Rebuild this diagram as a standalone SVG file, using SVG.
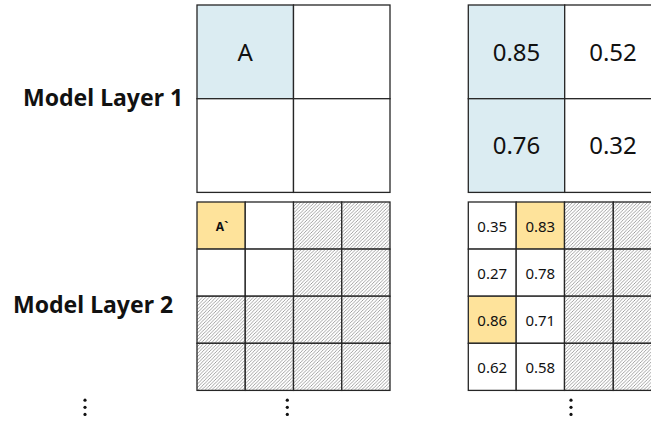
<svg xmlns="http://www.w3.org/2000/svg" width="651" height="421" viewBox="0 0 651 421">
  <style>
    .cell { fill: #ffffff; stroke: #262626; stroke-width: 1.3; }
    .blue { fill: #dbecf2; }
    .gold { fill: #fee39b; }
    .hatch { fill: url(#diag); }
    .label { font-family: "Noto Sans", "Open Sans", sans-serif; font-weight: bold; font-size: 23px; fill: #111; }
    .big { font-family: "Noto Sans", "Open Sans", sans-serif; font-size: 24px; fill: #111; text-anchor: middle; dominant-baseline: central; }
    .small { font-family: "Noto Sans", "Open Sans", sans-serif; font-size: 15px; fill: #111; text-anchor: middle; dominant-baseline: central; }
    .tag { font-family: "Noto Sans", "Open Sans", sans-serif; font-weight: bold; font-size: 12px; fill: #111; text-anchor: middle; dominant-baseline: central; }
    .dot { fill: #111; }
  </style>
  <defs>
    <pattern id="diag" patternUnits="userSpaceOnUse" width="3.4" height="3.4">
      <rect width="3.4" height="3.4" fill="#ffffff"/>
      <path d="M-0.85,0.85 L0.85,-0.85 M0,3.4 L3.4,0 M2.55,4.25 L4.25,2.55" stroke="#8c8c8c" stroke-width="0.8"/>
    </pattern>
  </defs>
  <rect width="651" height="421" fill="#ffffff"/>

  <!-- row labels -->
  <g id="label-layer1"><text class="label" x="23" y="106">Model Layer 1</text></g>
  <g id="label-layer2"><text class="label" x="13" y="312.5">Model Layer 2</text></g>

  <!-- layer 1, left: 2x2 grid -->
  <g id="layer1-left">
    <rect class="cell blue" x="197" y="5" width="96.5" height="93.7"/>
    <rect class="cell" x="293.5" y="5" width="96.5" height="93.7"/>
    <rect class="cell" x="197" y="98.7" width="96.5" height="93.7"/>
    <rect class="cell" x="293.5" y="98.7" width="96.5" height="93.7"/>
    <text class="big" x="245.2" y="51">A</text>
  </g>

  <!-- layer 1, right: 2x2 grid with scores -->
  <g id="layer1-right">
    <rect class="cell blue" x="468.3" y="5" width="96.4" height="93.7"/>
    <rect class="cell" x="564.7" y="5" width="96.4" height="93.7"/>
    <rect class="cell blue" x="468.3" y="98.7" width="96.4" height="93.7"/>
    <rect class="cell" x="564.7" y="98.7" width="96.4" height="93.7"/>
    <text class="big" x="516.5" y="51">0.85</text>
    <text class="big" x="613" y="51">0.52</text>
    <text class="big" x="516.5" y="144.5">0.76</text>
    <text class="big" x="613" y="144.5">0.32</text>
  </g>

  <!-- layer 2, left: 4x4 grid -->
  <g id="layer2-left">
    <rect class="cell gold" x="197" y="202" width="48.25" height="47.1"/>
    <rect class="cell" x="245.25" y="202" width="48.25" height="47.1"/>
    <rect class="cell hatch" x="293.5" y="202" width="48.25" height="47.1"/>
    <rect class="cell hatch" x="341.75" y="202" width="48.25" height="47.1"/>
    <rect class="cell" x="197" y="249.1" width="48.25" height="47.1"/>
    <rect class="cell" x="245.25" y="249.1" width="48.25" height="47.1"/>
    <rect class="cell hatch" x="293.5" y="249.1" width="48.25" height="47.1"/>
    <rect class="cell hatch" x="341.75" y="249.1" width="48.25" height="47.1"/>
    <rect class="cell hatch" x="197" y="296.2" width="48.25" height="47.1"/>
    <rect class="cell hatch" x="245.25" y="296.2" width="48.25" height="47.1"/>
    <rect class="cell hatch" x="293.5" y="296.2" width="48.25" height="47.1"/>
    <rect class="cell hatch" x="341.75" y="296.2" width="48.25" height="47.1"/>
    <rect class="cell hatch" x="197" y="343.3" width="48.25" height="47.1"/>
    <rect class="cell hatch" x="245.25" y="343.3" width="48.25" height="47.1"/>
    <rect class="cell hatch" x="293.5" y="343.3" width="48.25" height="47.1"/>
    <rect class="cell hatch" x="341.75" y="343.3" width="48.25" height="47.1"/>
    <text class="tag" x="222" y="226">A`</text>
  </g>

  <!-- layer 2, right: 4x4 grid with scores -->
  <g id="layer2-right">
    <rect class="cell" x="468.3" y="202" width="47.9" height="47.1"/>
    <rect class="cell gold" x="516.2" y="202" width="48.3" height="47.1"/>
    <rect class="cell hatch" x="564.5" y="202" width="48.8" height="47.1"/>
    <rect class="cell hatch" x="613.3" y="202" width="48.8" height="47.1"/>
    <rect class="cell" x="468.3" y="249.1" width="47.9" height="47.1"/>
    <rect class="cell" x="516.2" y="249.1" width="48.3" height="47.1"/>
    <rect class="cell hatch" x="564.5" y="249.1" width="48.8" height="47.1"/>
    <rect class="cell hatch" x="613.3" y="249.1" width="48.8" height="47.1"/>
    <rect class="cell gold" x="468.3" y="296.2" width="47.9" height="47.1"/>
    <rect class="cell" x="516.2" y="296.2" width="48.3" height="47.1"/>
    <rect class="cell hatch" x="564.5" y="296.2" width="48.8" height="47.1"/>
    <rect class="cell hatch" x="613.3" y="296.2" width="48.8" height="47.1"/>
    <rect class="cell" x="468.3" y="343.3" width="47.9" height="47.1"/>
    <rect class="cell" x="516.2" y="343.3" width="48.3" height="47.1"/>
    <rect class="cell hatch" x="564.5" y="343.3" width="48.8" height="47.1"/>
    <rect class="cell hatch" x="613.3" y="343.3" width="48.8" height="47.1"/>
    <text class="small" x="492.2" y="225.5">0.35</text>
    <text class="small" x="540.3" y="225.5">0.83</text>
    <text class="small" x="492.2" y="272.6">0.27</text>
    <text class="small" x="540.3" y="272.6">0.78</text>
    <text class="small" x="492.2" y="319.7">0.86</text>
    <text class="small" x="540.3" y="319.7">0.71</text>
    <text class="small" x="492.2" y="366.8">0.62</text>
    <text class="small" x="540.3" y="366.8">0.58</text>
  </g>

  <!-- continuation marks below each column -->
  <g id="more-labels">
    <circle class="dot" cx="85" cy="400.2" r="1.6"/>
    <circle class="dot" cx="85" cy="407.3" r="1.6"/>
    <circle class="dot" cx="85" cy="414.4" r="1.6"/>
  </g>
  <g id="more-left">
    <circle class="dot" cx="287.3" cy="400.2" r="1.6"/>
    <circle class="dot" cx="287.3" cy="407.3" r="1.6"/>
    <circle class="dot" cx="287.3" cy="414.4" r="1.6"/>
  </g>
  <g id="more-right">
    <circle class="dot" cx="571" cy="400.2" r="1.6"/>
    <circle class="dot" cx="571" cy="407.3" r="1.6"/>
    <circle class="dot" cx="571" cy="414.4" r="1.6"/>
  </g>
</svg>
